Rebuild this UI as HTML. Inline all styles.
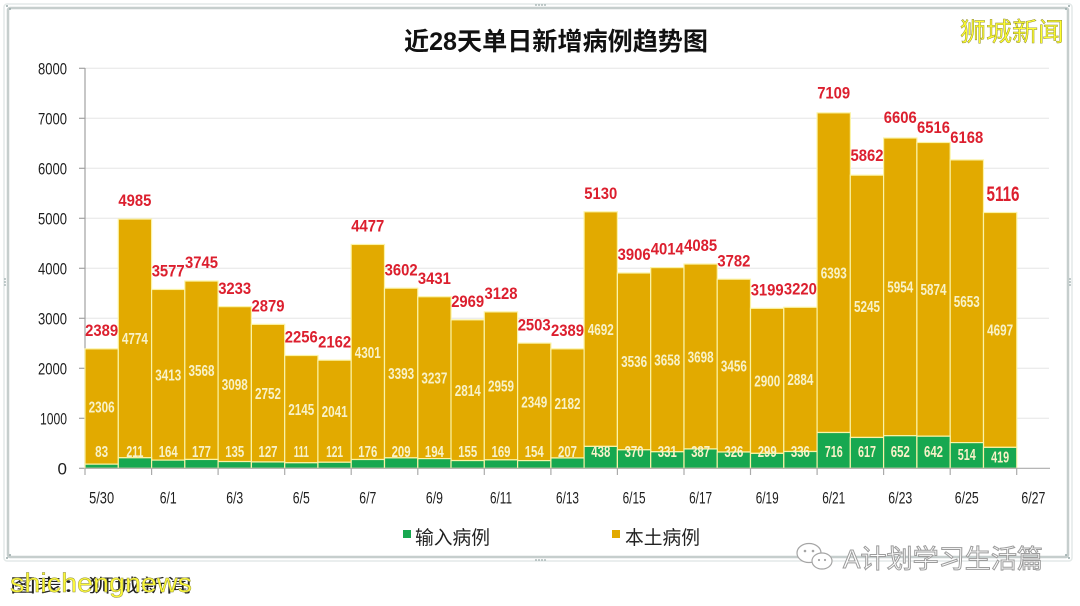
<!DOCTYPE html>
<html>
<head>
<meta charset="utf-8">
<style>
  html,body{margin:0;padding:0;background:#fff;}
  svg{display:block;}
  .r{fill:#dc1f2e;font-family:"Liberation Sans",sans-serif;font-size:17px;font-weight:bold;text-anchor:middle;}
  .g{fill:#f8f2c8;font-family:"Liberation Sans",sans-serif;font-size:16px;font-weight:bold;text-anchor:middle;}
  .y{fill:#1e1e1e;font-family:"Liberation Sans",sans-serif;font-size:17px;text-anchor:end;}
  .x{fill:#1e1e1e;font-family:"Liberation Sans",sans-serif;font-size:16.5px;text-anchor:middle;}
  .cj{font-family:"Liberation Sans","Noto Sans CJK SC",sans-serif;}
</style>
</head>
<body>
<svg width="1080" height="606" viewBox="0 0 1080 606" xmlns="http://www.w3.org/2000/svg">
  <rect width="1080" height="606" fill="#fff"/>
  <!-- frame -->
  <rect x="4" y="4" width="1068" height="557" rx="3" fill="none" stroke="#e3e9e8" stroke-width="1.5"/>
  <rect x="8" y="8" width="1060" height="549" rx="2" fill="none" stroke="#c6cecd" stroke-width="2.5"/>
  <g fill="#9aa">
    <circle cx="536" cy="5" r="0.9"/><circle cx="539" cy="5" r="0.9"/><circle cx="542" cy="5" r="0.9"/><circle cx="545" cy="5" r="0.9"/>
    <circle cx="536" cy="560" r="0.9"/><circle cx="539" cy="560" r="0.9"/><circle cx="542" cy="560" r="0.9"/><circle cx="545" cy="560" r="0.9"/>
    <circle cx="5" cy="279" r="0.9"/><circle cx="5" cy="282" r="0.9"/><circle cx="5" cy="285" r="0.9"/>
    <circle cx="1070" cy="279" r="0.9"/><circle cx="1070" cy="282" r="0.9"/><circle cx="1070" cy="285" r="0.9"/>
    <circle cx="7" cy="6" r="1"/><circle cx="10" cy="9" r="1"/><circle cx="1069" cy="6" r="1"/><circle cx="1066" cy="9" r="1"/>
    <circle cx="7" cy="558" r="1"/><circle cx="10" cy="555" r="1"/><circle cx="1069" cy="558" r="1"/><circle cx="1066" cy="555" r="1"/>
  </g>

  <!-- title -->
  <text x="556" y="50" text-anchor="middle" class="cj" font-size="25" font-weight="bold" fill="#111" textLength="304" lengthAdjust="spacingAndGlyphs">近28天单日新增病例趋势图</text>
  <!-- top-right watermark -->
  <text x="960" y="41" class="cj" font-size="26" fill="#ffff30" stroke="#8a8730" stroke-width="0.45" textLength="104" lengthAdjust="spacingAndGlyphs">狮城新闻</text>

  <!-- gridlines -->
  <g stroke="#e6e6e6" stroke-width="1">
    <line x1="85" y1="68.3" x2="1049" y2="68.3"/>
    <line x1="85" y1="118.3" x2="1049" y2="118.3"/>
    <line x1="85" y1="168.3" x2="1049" y2="168.3"/>
    <line x1="85" y1="218.3" x2="1049" y2="218.3"/>
    <line x1="85" y1="268.3" x2="1049" y2="268.3"/>
    <line x1="85" y1="318.3" x2="1049" y2="318.3"/>
    <line x1="85" y1="368.3" x2="1049" y2="368.3"/>
    <line x1="85" y1="418.3" x2="1049" y2="418.3"/>
  </g>

  <!-- y axis -->
  <g stroke="#a2a2a2" stroke-width="1.2">
    <line x1="85" y1="68" x2="85" y2="468.3"/>
    <line x1="79" y1="68.3" x2="85" y2="68.3"/>
    <line x1="79" y1="118.3" x2="85" y2="118.3"/>
    <line x1="79" y1="168.3" x2="85" y2="168.3"/>
    <line x1="79" y1="218.3" x2="85" y2="218.3"/>
    <line x1="79" y1="268.3" x2="85" y2="268.3"/>
    <line x1="79" y1="318.3" x2="85" y2="318.3"/>
    <line x1="79" y1="368.3" x2="85" y2="368.3"/>
    <line x1="79" y1="418.3" x2="85" y2="418.3"/>
    <line x1="79" y1="468.3" x2="85" y2="468.3"/>
  </g>
  <g class="y">
    <text x="67" y="74.4" textLength="29" lengthAdjust="spacingAndGlyphs">8000</text>
    <text x="67" y="124.4" textLength="29" lengthAdjust="spacingAndGlyphs">7000</text>
    <text x="67" y="174.4" textLength="29" lengthAdjust="spacingAndGlyphs">6000</text>
    <text x="67" y="224.4" textLength="29" lengthAdjust="spacingAndGlyphs">5000</text>
    <text x="67" y="274.4" textLength="29" lengthAdjust="spacingAndGlyphs">4000</text>
    <text x="67" y="324.4" textLength="29" lengthAdjust="spacingAndGlyphs">3000</text>
    <text x="67" y="374.4" textLength="29" lengthAdjust="spacingAndGlyphs">2000</text>
    <text x="67" y="424.4" textLength="27" lengthAdjust="spacingAndGlyphs">1000</text>
    <text x="67" y="474.4">0</text>
  </g>

  <!-- bars: gold (local) -->
  <g fill="#e2aa00" stroke="#fbf3a6" stroke-width="1.2">
    <rect x="85.0" y="348.85" width="33.28" height="115.3"/>
    <rect x="118.3" y="219.05" width="33.28" height="238.7"/>
    <rect x="151.6" y="289.45" width="33.28" height="170.65"/>
    <rect x="184.8" y="281.05" width="33.28" height="178.4"/>
    <rect x="218.1" y="306.65" width="33.28" height="154.9"/>
    <rect x="251.4" y="324.35" width="33.28" height="137.6"/>
    <rect x="284.7" y="355.5" width="33.28" height="107.25"/>
    <rect x="317.9" y="360.2" width="33.28" height="102.05"/>
    <rect x="351.2" y="244.45" width="33.28" height="215.05"/>
    <rect x="384.5" y="288.2" width="33.28" height="169.65"/>
    <rect x="417.8" y="296.75" width="33.28" height="161.85"/>
    <rect x="451.0" y="319.85" width="33.28" height="140.7"/>
    <rect x="484.3" y="311.9" width="33.28" height="147.95"/>
    <rect x="517.6" y="343.15" width="33.28" height="117.45"/>
    <rect x="550.9" y="348.85" width="33.28" height="109.1"/>
    <rect x="584.1" y="211.8" width="33.28" height="234.6"/>
    <rect x="617.4" y="273.0" width="33.28" height="176.8"/>
    <rect x="650.7" y="267.6" width="33.28" height="184.15"/>
    <rect x="684.0" y="264.05" width="33.28" height="184.9"/>
    <rect x="717.2" y="279.2" width="33.28" height="172.8"/>
    <rect x="750.5" y="308.35" width="33.28" height="145.0"/>
    <rect x="783.8" y="307.3" width="33.28" height="144.2"/>
    <rect x="817.1" y="112.85" width="33.28" height="319.65"/>
    <rect x="850.3" y="175.2" width="33.28" height="262.25"/>
    <rect x="883.6" y="138.0" width="33.28" height="297.7"/>
    <rect x="916.9" y="142.5" width="33.28" height="293.7"/>
    <rect x="950.2" y="159.9" width="33.28" height="282.7"/>
    <rect x="983.5" y="212.5" width="33.28" height="234.85"/>
  </g>
  <!-- bars: green (imported) -->
  <g fill="#17a850" stroke="#fbf3a6" stroke-width="1.2">
    <rect x="85.0" y="464.15" width="33.28" height="4.15"/>
    <rect x="118.3" y="457.75" width="33.28" height="10.55"/>
    <rect x="151.6" y="460.1" width="33.28" height="8.2"/>
    <rect x="184.8" y="459.45" width="33.28" height="8.85"/>
    <rect x="218.1" y="461.55" width="33.28" height="6.75"/>
    <rect x="251.4" y="461.95" width="33.28" height="6.35"/>
    <rect x="284.7" y="462.75" width="33.28" height="5.55"/>
    <rect x="317.9" y="462.25" width="33.28" height="6.05"/>
    <rect x="351.2" y="459.5" width="33.28" height="8.8"/>
    <rect x="384.5" y="457.85" width="33.28" height="10.45"/>
    <rect x="417.8" y="458.6" width="33.28" height="9.7"/>
    <rect x="451.0" y="460.55" width="33.28" height="7.75"/>
    <rect x="484.3" y="459.85" width="33.28" height="8.45"/>
    <rect x="517.6" y="460.6" width="33.28" height="7.7"/>
    <rect x="550.9" y="457.95" width="33.28" height="10.35"/>
    <rect x="584.1" y="446.4" width="33.28" height="21.9"/>
    <rect x="617.4" y="449.8" width="33.28" height="18.5"/>
    <rect x="650.7" y="451.75" width="33.28" height="16.55"/>
    <rect x="684.0" y="448.95" width="33.28" height="19.35"/>
    <rect x="717.2" y="452.0" width="33.28" height="16.3"/>
    <rect x="750.5" y="453.35" width="33.28" height="14.95"/>
    <rect x="783.8" y="451.5" width="33.28" height="16.8"/>
    <rect x="817.1" y="432.5" width="33.28" height="35.8"/>
    <rect x="850.3" y="437.45" width="33.28" height="30.85"/>
    <rect x="883.6" y="435.7" width="33.28" height="32.6"/>
    <rect x="916.9" y="436.2" width="33.28" height="32.1"/>
    <rect x="950.2" y="442.6" width="33.28" height="25.7"/>
    <rect x="983.5" y="447.35" width="33.28" height="20.95"/>
  </g>

  <!-- x axis -->
  <g stroke="#ababab" stroke-width="1.2">
    <line x1="85" y1="468.3" x2="1050" y2="468.3"/>
    <line x1="85" y1="468.3" x2="85" y2="475"/>
    <line x1="151.6" y1="468.3" x2="151.6" y2="475"/>
    <line x1="218.1" y1="468.3" x2="218.1" y2="475"/>
    <line x1="284.7" y1="468.3" x2="284.7" y2="475"/>
    <line x1="351.2" y1="468.3" x2="351.2" y2="475"/>
    <line x1="417.8" y1="468.3" x2="417.8" y2="475"/>
    <line x1="484.3" y1="468.3" x2="484.3" y2="475"/>
    <line x1="550.9" y1="468.3" x2="550.9" y2="475"/>
    <line x1="617.4" y1="468.3" x2="617.4" y2="475"/>
    <line x1="684.0" y1="468.3" x2="684.0" y2="475"/>
    <line x1="750.5" y1="468.3" x2="750.5" y2="475"/>
    <line x1="817.1" y1="468.3" x2="817.1" y2="475"/>
    <line x1="883.6" y1="468.3" x2="883.6" y2="475"/>
    <line x1="950.2" y1="468.3" x2="950.2" y2="475"/>
    <line x1="1016.7" y1="468.3" x2="1016.7" y2="475"/>
  </g>
  <g class="x">
    <text x="101.6" y="503.7" textLength="25" lengthAdjust="spacingAndGlyphs">5/30</text>
    <text x="168.2" y="503.7" textLength="17" lengthAdjust="spacingAndGlyphs">6/1</text>
    <text x="234.7" y="503.7" textLength="17" lengthAdjust="spacingAndGlyphs">6/3</text>
    <text x="301.3" y="503.7" textLength="17" lengthAdjust="spacingAndGlyphs">6/5</text>
    <text x="367.8" y="503.7" textLength="17" lengthAdjust="spacingAndGlyphs">6/7</text>
    <text x="434.4" y="503.7" textLength="17" lengthAdjust="spacingAndGlyphs">6/9</text>
    <text x="501.0" y="503.7" textLength="22" lengthAdjust="spacingAndGlyphs">6/11</text>
    <text x="567.5" y="503.7" textLength="23" lengthAdjust="spacingAndGlyphs">6/13</text>
    <text x="634.1" y="503.7" textLength="23" lengthAdjust="spacingAndGlyphs">6/15</text>
    <text x="700.6" y="503.7" textLength="23" lengthAdjust="spacingAndGlyphs">6/17</text>
    <text x="767.2" y="503.7" textLength="23" lengthAdjust="spacingAndGlyphs">6/19</text>
    <text x="833.7" y="503.7" textLength="23" lengthAdjust="spacingAndGlyphs">6/21</text>
    <text x="900.3" y="503.7" textLength="24" lengthAdjust="spacingAndGlyphs">6/23</text>
    <text x="966.8" y="503.7" textLength="24" lengthAdjust="spacingAndGlyphs">6/25</text>
    <text x="1033.4" y="503.7" textLength="24" lengthAdjust="spacingAndGlyphs">6/27</text>
  </g>

  <!-- local labels (middle of gold) -->
  <g class="g">
    <text x="101.6" y="412.3" textLength="26" lengthAdjust="spacingAndGlyphs">2306</text>
    <text x="134.9" y="344.2" textLength="26" lengthAdjust="spacingAndGlyphs">4774</text>
    <text x="168.2" y="380.6" textLength="26" lengthAdjust="spacingAndGlyphs">3413</text>
    <text x="201.5" y="376.0" textLength="26" lengthAdjust="spacingAndGlyphs">3568</text>
    <text x="234.7" y="389.9" textLength="26" lengthAdjust="spacingAndGlyphs">3098</text>
    <text x="268.0" y="398.9" textLength="26" lengthAdjust="spacingAndGlyphs">2752</text>
    <text x="301.3" y="414.9" textLength="26" lengthAdjust="spacingAndGlyphs">2145</text>
    <text x="334.6" y="417.0" textLength="26" lengthAdjust="spacingAndGlyphs">2041</text>
    <text x="367.8" y="357.8" textLength="26" lengthAdjust="spacingAndGlyphs">4301</text>
    <text x="401.1" y="378.8" textLength="26" lengthAdjust="spacingAndGlyphs">3393</text>
    <text x="434.4" y="383.5" textLength="26" lengthAdjust="spacingAndGlyphs">3237</text>
    <text x="467.7" y="396.0" textLength="26" lengthAdjust="spacingAndGlyphs">2814</text>
    <text x="501.0" y="391.7" textLength="26" lengthAdjust="spacingAndGlyphs">2959</text>
    <text x="534.2" y="407.7" textLength="26" lengthAdjust="spacingAndGlyphs">2349</text>
    <text x="567.5" y="409.2" textLength="26" lengthAdjust="spacingAndGlyphs">2182</text>
    <text x="600.8" y="334.9" textLength="26" lengthAdjust="spacingAndGlyphs">4692</text>
    <text x="634.1" y="367.2" textLength="26" lengthAdjust="spacingAndGlyphs">3536</text>
    <text x="667.3" y="365.5" textLength="26" lengthAdjust="spacingAndGlyphs">3658</text>
    <text x="700.6" y="362.3" textLength="26" lengthAdjust="spacingAndGlyphs">3698</text>
    <text x="733.9" y="371.4" textLength="26" lengthAdjust="spacingAndGlyphs">3456</text>
    <text x="767.2" y="386.6" textLength="26" lengthAdjust="spacingAndGlyphs">2900</text>
    <text x="800.4" y="385.2" textLength="26" lengthAdjust="spacingAndGlyphs">2884</text>
    <text x="833.7" y="278.5" textLength="26" lengthAdjust="spacingAndGlyphs">6393</text>
    <text x="867.0" y="312.1" textLength="26" lengthAdjust="spacingAndGlyphs">5245</text>
    <text x="900.3" y="292.6" textLength="26" lengthAdjust="spacingAndGlyphs">5954</text>
    <text x="933.5" y="295.1" textLength="26" lengthAdjust="spacingAndGlyphs">5874</text>
    <text x="966.8" y="307.0" textLength="26" lengthAdjust="spacingAndGlyphs">5653</text>
    <text x="1000.1" y="335.7" textLength="26" lengthAdjust="spacingAndGlyphs">4697</text>
  </g>

  <!-- import labels -->
  <g class="g">
    <text x="101.6" y="456.8" textLength="13" lengthAdjust="spacingAndGlyphs">83</text>
    <text x="134.9" y="456.8" textLength="17" lengthAdjust="spacingAndGlyphs">211</text>
    <text x="168.2" y="456.8" textLength="19" lengthAdjust="spacingAndGlyphs">164</text>
    <text x="201.5" y="456.8" textLength="19" lengthAdjust="spacingAndGlyphs">177</text>
    <text x="234.7" y="456.8" textLength="19" lengthAdjust="spacingAndGlyphs">135</text>
    <text x="268.0" y="456.8" textLength="19" lengthAdjust="spacingAndGlyphs">127</text>
    <text x="301.3" y="456.8" textLength="15" lengthAdjust="spacingAndGlyphs">111</text>
    <text x="334.6" y="456.8" textLength="17" lengthAdjust="spacingAndGlyphs">121</text>
    <text x="367.8" y="456.8" textLength="19" lengthAdjust="spacingAndGlyphs">176</text>
    <text x="401.1" y="456.8" textLength="19" lengthAdjust="spacingAndGlyphs">209</text>
    <text x="434.4" y="456.8" textLength="19" lengthAdjust="spacingAndGlyphs">194</text>
    <text x="467.7" y="456.8" textLength="19" lengthAdjust="spacingAndGlyphs">155</text>
    <text x="501.0" y="456.8" textLength="19" lengthAdjust="spacingAndGlyphs">169</text>
    <text x="534.2" y="456.8" textLength="19" lengthAdjust="spacingAndGlyphs">154</text>
    <text x="567.5" y="456.8" textLength="19" lengthAdjust="spacingAndGlyphs">207</text>
    <text x="600.8" y="456.8" textLength="19" lengthAdjust="spacingAndGlyphs">438</text>
    <text x="634.1" y="456.8" textLength="19" lengthAdjust="spacingAndGlyphs">370</text>
    <text x="667.3" y="456.8" textLength="19" lengthAdjust="spacingAndGlyphs">331</text>
    <text x="700.6" y="456.8" textLength="19" lengthAdjust="spacingAndGlyphs">387</text>
    <text x="733.9" y="456.8" textLength="19" lengthAdjust="spacingAndGlyphs">326</text>
    <text x="767.2" y="456.8" textLength="19" lengthAdjust="spacingAndGlyphs">299</text>
    <text x="800.4" y="456.8" textLength="19" lengthAdjust="spacingAndGlyphs">336</text>
    <text x="833.7" y="456.8" textLength="18" lengthAdjust="spacingAndGlyphs">716</text>
    <text x="867.0" y="456.8" textLength="18" lengthAdjust="spacingAndGlyphs">617</text>
    <text x="900.3" y="456.8" textLength="19" lengthAdjust="spacingAndGlyphs">652</text>
    <text x="933.5" y="456.8" textLength="19" lengthAdjust="spacingAndGlyphs">642</text>
    <text x="966.8" y="459.8" textLength="18" lengthAdjust="spacingAndGlyphs">514</text>
    <text x="1000.1" y="462.4" textLength="18" lengthAdjust="spacingAndGlyphs">419</text>
  </g>

  <!-- totals -->
  <g class="r">
    <text x="101.6" y="336.0" textLength="33" lengthAdjust="spacingAndGlyphs">2389</text>
    <text x="134.9" y="206.2" textLength="33" lengthAdjust="spacingAndGlyphs">4985</text>
    <text x="168.2" y="276.6" textLength="33" lengthAdjust="spacingAndGlyphs">3577</text>
    <text x="201.5" y="268.2" textLength="33" lengthAdjust="spacingAndGlyphs">3745</text>
    <text x="234.7" y="293.8" textLength="33" lengthAdjust="spacingAndGlyphs">3233</text>
    <text x="268.0" y="311.5" textLength="33" lengthAdjust="spacingAndGlyphs">2879</text>
    <text x="301.3" y="342.6" textLength="33" lengthAdjust="spacingAndGlyphs">2256</text>
    <text x="334.6" y="347.3" textLength="33" lengthAdjust="spacingAndGlyphs">2162</text>
    <text x="367.8" y="231.6" textLength="33" lengthAdjust="spacingAndGlyphs">4477</text>
    <text x="401.1" y="275.3" textLength="33" lengthAdjust="spacingAndGlyphs">3602</text>
    <text x="434.4" y="283.9" textLength="33" lengthAdjust="spacingAndGlyphs">3431</text>
    <text x="467.7" y="307.0" textLength="33" lengthAdjust="spacingAndGlyphs">2969</text>
    <text x="501.0" y="299.0" textLength="33" lengthAdjust="spacingAndGlyphs">3128</text>
    <text x="534.2" y="330.3" textLength="33" lengthAdjust="spacingAndGlyphs">2503</text>
    <text x="567.5" y="336.0" textLength="33" lengthAdjust="spacingAndGlyphs">2389</text>
    <text x="600.8" y="198.9" textLength="33" lengthAdjust="spacingAndGlyphs">5130</text>
    <text x="634.1" y="260.1" textLength="33" lengthAdjust="spacingAndGlyphs">3906</text>
    <text x="667.3" y="254.7" textLength="33" lengthAdjust="spacingAndGlyphs">4014</text>
    <text x="700.6" y="251.2" textLength="33" lengthAdjust="spacingAndGlyphs">4085</text>
    <text x="733.9" y="266.3" textLength="33" lengthAdjust="spacingAndGlyphs">3782</text>
    <text x="767.2" y="295.5" textLength="33" lengthAdjust="spacingAndGlyphs">3199</text>
    <text x="800.4" y="294.4" textLength="33" lengthAdjust="spacingAndGlyphs">3220</text>
    <text x="833.7" y="98.5" textLength="33" lengthAdjust="spacingAndGlyphs">7109</text>
    <text x="867.0" y="160.8" textLength="33" lengthAdjust="spacingAndGlyphs">5862</text>
    <text x="900.3" y="122.9" textLength="33" lengthAdjust="spacingAndGlyphs">6606</text>
    <text x="933.5" y="132.8" textLength="33" lengthAdjust="spacingAndGlyphs">6516</text>
    <text x="966.8" y="143.1" textLength="33" lengthAdjust="spacingAndGlyphs">6168</text>
  </g>
  <text x="1003" y="201.2" text-anchor="middle" fill="#dc1f2e" font-family="Liberation Sans, sans-serif" font-size="21" font-weight="bold" textLength="33" lengthAdjust="spacingAndGlyphs">5116</text>

  <!-- legend -->
  <rect x="403" y="530" width="8" height="8" fill="#17a850"/>
  <text x="415" y="544" class="cj" font-size="19" fill="#222" textLength="75" lengthAdjust="spacingAndGlyphs">输入病例</text>
  <rect x="612" y="530" width="8" height="8" fill="#e2aa00"/>
  <text x="625" y="544" class="cj" font-size="19" fill="#222" textLength="75" lengthAdjust="spacingAndGlyphs">本土病例</text>

  <!-- bottom-right watermark -->
  <g fill="#fff" stroke="#a5a5a5" stroke-width="1.2">
    <ellipse cx="809" cy="553" rx="12" ry="9.5"/>
    <ellipse cx="822" cy="561" rx="10" ry="8"/>
  </g>
  <g fill="#a5a5a5">
    <circle cx="805" cy="551" r="1.3"/><circle cx="813" cy="551" r="1.3"/>
    <circle cx="819" cy="560" r="1.1"/><circle cx="825" cy="560" r="1.1"/>
  </g>
  <text x="843" y="568" class="cj" font-size="26" fill="#fff" stroke="#9c9c9c" stroke-width="1" textLength="200" lengthAdjust="spacingAndGlyphs">A计划学习生活篇</text>

  <!-- bottom-left watermark -->
  <text x="10" y="592" class="cj" font-size="18" fill="#222" textLength="182" lengthAdjust="spacingAndGlyphs">图表：狮城新闻</text>
  <text x="10" y="592" font-family="Liberation Sans, sans-serif" font-size="27" fill="#fbf73a" stroke="#8a8a40" stroke-width="0.4" textLength="182" lengthAdjust="spacingAndGlyphs">shichengnews</text>
</svg>
</body>
</html>
